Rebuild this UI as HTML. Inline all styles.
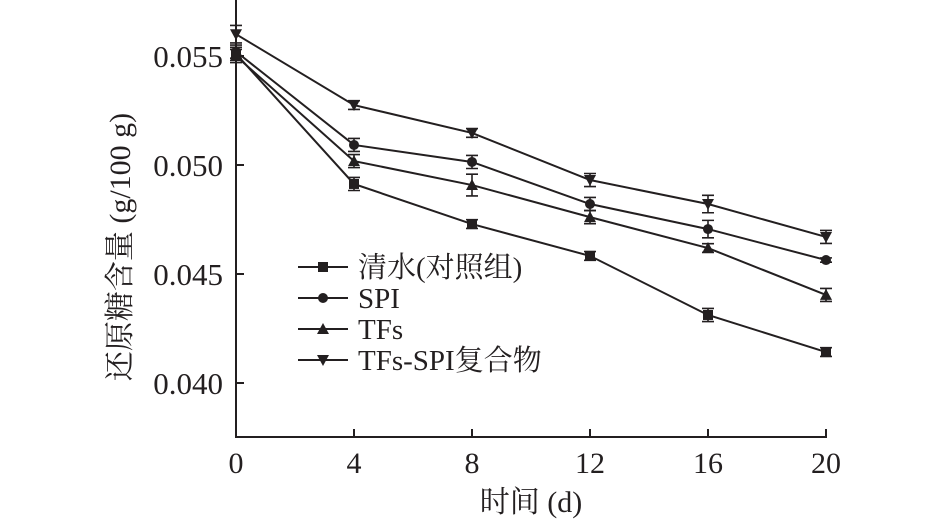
<!DOCTYPE html>
<html><head><meta charset="utf-8"><style>
html,body{margin:0;padding:0;background:#fff;width:945px;height:524px;overflow:hidden}
svg text{font-family:"Liberation Serif","Noto Serif CJK SC",serif;fill:#231f20}
</style></head><body>
<svg id="c" width="945" height="524"></svg>
<script>
const xCats=[0,4,8,12,16,20];
const sWater=[0.0551,0.04913,0.04729,0.04583,0.04312,0.04142];
const sSPI=[0.0552,0.05092,0.05014,0.04821,0.04706,0.04564];
const sTFs=[0.0550,0.05018,0.04908,0.04761,0.04619,0.04404];
const sMix=[0.0560,0.05275,0.05147,0.04931,0.04821,0.0467];
const eWater=[0.0003,0.0003,0.0002,0.0002,0.0003,0.0002];
const eSPI=[0.0003,0.0003,0.0003,0.0003,0.0004,0.0001];
const eTFs=[0.0003,0.0003,0.0005,0.0003,0.0002,0.0003];
const eMix=[0.0004,0.0002,0.0002,0.0003,0.0004,0.0003];
const yTicks=[0.040,0.045,0.050,0.055];
const seriesNames=["清水(对照组)","SPI","TFs","TFs-SPI复合物"];
const ns="http://www.w3.org/2000/svg";
const svg=document.getElementById('c');
const X=v=>236+(v-0)*29.5;
const Y=v=>383-(v-0.040)*21800;
function mk(t,a,p){const e=document.createElementNS(ns,t);for(const k in a)e.setAttribute(k,a[k]);(p||svg).appendChild(e);return e;}
const st={stroke:"#231f20","stroke-width":2,fill:"none"};
let ax=mk('line',Object.assign({x1:236,y1:0,x2:236,y2:437},st));

let bx=mk('line',Object.assign({x1:235,y1:437,x2:827,y2:437},st));

yTicks.forEach(v=>{
 mk('line',Object.assign({x1:236,y1:Y(v),x2:244,y2:Y(v)},st));
 const t=mk('text',{x:223,y:Y(v)+11,"text-anchor":"end","font-size":31});t.textContent=v.toFixed(3);
 
});
xCats.forEach(v=>{
 mk('line',Object.assign({x1:X(v),y1:437,x2:X(v),y2:429},st));
 const t=mk('text',{x:X(v),y:473,"text-anchor":"middle","font-size":30});t.textContent=v;
 
});
let xt=mk('text',{x:531,y:512,"text-anchor":"middle","font-size":30});xt.textContent="时间 (d)";

let yt=mk('text',{x:0,y:0,"text-anchor":"middle","font-size":30,transform:"translate(130,247) rotate(-90)"});yt.textContent="还原糖含量 (g/100 g)";

function marker(g,type,x,y){
 if(type==0)mk('rect',{x:x-5,y:y-5,width:10,height:10,fill:"#231f20"},g);
 else if(type==1)mk('circle',{cx:x,cy:y,r:5,fill:"#231f20"},g);
 else if(type==2)mk('polygon',{points:`${x},${y-6} ${x-6},${y+5} ${x+6},${y+5}`,fill:"#231f20"},g);
 else mk('polygon',{points:`${x},${y+6} ${x-6},${y-5} ${x+6},${y-5}`,fill:"#231f20"},g);
}
const all=[[sWater,eWater],[sSPI,eSPI],[sTFs,eTFs],[sMix,eMix]];
const keys=['water','spi','tfs','tfs-spi'];
all.forEach(([s,e],i)=>{
 const g=mk('g',{});
 
 mk('polyline',Object.assign({points:s.map((v,j)=>X(xCats[j])+','+Y(v)).join(' ')},st),g);
 s.forEach((v,j)=>{
  const x=X(xCats[j]),y1=Y(v+e[j]),y2=Y(v-e[j]);
  mk('path',Object.assign({d:`M${x},${y1}V${y2}M${x-6},${y1}H${x+6}M${x-6},${y2}H${x+6}`},st,{"stroke-width":1.6}),g);
  marker(g,i,x,Y(v));
 });
 const ly=267+i*31;
 const lg=mk('g',{},svg);
 
 mk('line',Object.assign({x1:298,y1:ly,x2:348,y2:ly},st),lg);
 marker(lg,i,323,ly);
 const t=mk('text',{x:358,y:ly+10,"font-size":29},lg);t.textContent=seriesNames[i];
});
</script>
</body></html>
